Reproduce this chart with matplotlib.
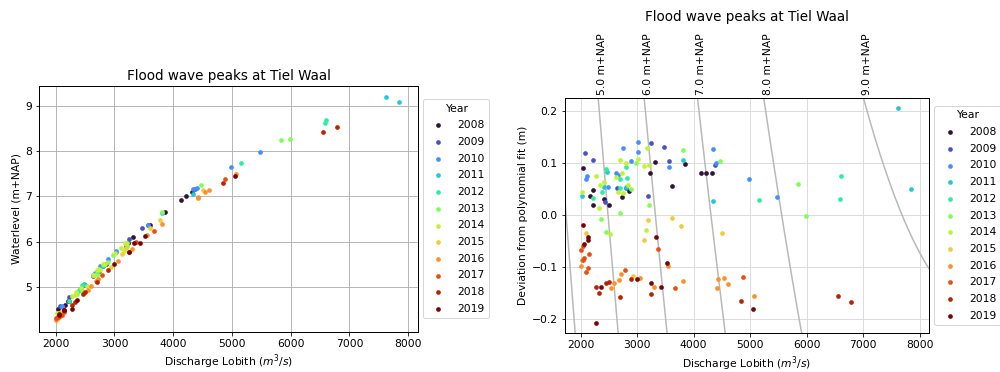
import numpy as np
import matplotlib
matplotlib.use('Agg')
import matplotlib.pyplot as plt

plt.rcParams['font.family'] = ['DejaVu Sans']
plt.rcParams['font.size'] = 10.8
plt.rcParams['axes.linewidth'] = 1.0

years = [2008, 2009, 2010, 2011, 2012, 2013, 2014, 2015, 2016, 2017, 2018, 2019]

# discharge (m3/s) and deviation from polynomial fit (m), per year
q2008 = [2041, 2217, 2159, 2411, 2224, 2506, 2859, 2736, 3317, 3229, 3611, 3852, 4129, 4217, 4323]
d2008 = [0.090, 0.048, 0.037, 0.030, 0.020, 0.020, 0.046, 0.035, 0.101, 0.080, 0.056, 0.097, 0.081, 0.081, 0.081]
q2009 = [2071, 2229, 2436, 2640, 2806, 3241, 3476, 3570, 3200, 4369]
d2009 = [0.118, 0.105, 0.024, 0.051, 0.051, 0.139, 0.131, 0.103, 0.037, 0.096]
q2010 = [2111, 2100, 2482, 2746, 2635, 2670, 2894, 3018, 3018, 3570, 4341, 4404, 4981, 5475]
d2010 = [0.074, 0.070, 0.054, 0.129, 0.081, 0.076, 0.103, 0.120, 0.140, 0.092, 0.126, 0.100, 0.070, 0.035]
q2011 = [2476, 2411, 2030, 2811, 3817, 4341, 7622, 7839]
d2011 = [0.083, 0.054, 0.036, 0.054, 0.106, 0.026, 0.206, 0.050]
q2012 = [2453, 2229, 2376, 2700, 2806, 2823, 2706, 5152, 6609, 6586]
d2012 = [0.089, 0.032, 0.045, 0.070, 0.092, 0.071, 0.052, 0.029, 0.074, 0.030]
q2013 = [2365, 2894, 2694, 2982, 3212, 3817, 4475, 5840, 5981, 2446]
d2013 = [-0.008, 0.050, 0.004, 0.099, 0.020, 0.124, 0.104, 0.059, -0.001, -0.033]
q2014 = [2270, 2423, 2347, 2018, 2335, 2630, 2741, 2700, 2806, 2658, 2753, 2847, 3011, 3177, 3117, 3217, 3164, 2524]
d2014 = [0.074, 0.064, 0.058, 0.045, 0.013, 0.072, 0.080, 0.105, 0.100, 0.044, 0.042, 0.058, 0.108, 0.128, 0.094, 0.095, -0.028, -0.037]
q2015 = [3200, 3611, 3782, 4510, 3129, 2088, 2935]
d2015 = [-0.009, -0.006, -0.021, -0.035, -0.048, -0.035, -0.117]
q2016 = [2005, 2723, 2688, 2600, 2547, 3053, 3293, 3552, 3811, 4429, 4540, 4611, 4417, 5064, 2030]
d2016 = [-0.097, -0.113, -0.124, -0.130, -0.141, -0.120, -0.139, -0.097, -0.126, -0.122, -0.121, -0.132, -0.140, -0.155, -0.086]
q2017 = [3370, 2035, 2012, 2141, 2065, 2041, 2136, 2100, 2781, 3670, 4875]
d2017 = [-0.065, -0.060, -0.068, -0.075, -0.083, -0.087, -0.101, -0.110, -0.105, -0.140, -0.119]
q2018 = [2499, 2459, 2282, 2335, 2700, 2894, 3247, 4840, 6546, 6786]
d2018 = [-0.128, -0.131, -0.139, -0.150, -0.158, -0.123, -0.152, -0.165, -0.156, -0.166]
q2019 = [2048, 2136, 2136, 2058, 3328, 3522, 2370, 2277, 2993, 3240, 3429, 5057]
d2019 = [-0.020, -0.042, -0.048, -0.056, -0.043, -0.092, -0.138, -0.207, -0.123, -0.130, -0.138, -0.181]

q_all = [q2008, q2009, q2010, q2011, q2012, q2013, q2014, q2015, q2016, q2017, q2018, q2019]
d_all = [d2008, d2009, d2010, d2011, d2012, d2013, d2014, d2015, d2016, d2017, d2018, d2019]

# rating-curve polynomial fit h(Q) (highest power first)
poly_coef = [-9.75e-8, 1.761e-3, 1.225]
levels = [4.0, 5.0, 6.0, 7.0, 8.0, 9.0]

title = 'Flood wave peaks at Tiel Waal'
xlabel = 'Discharge Lobith ($m^3/s$)'

xlim = (1720, 8162)
ylim_right = (-0.227, 0.225)
ylim_left = (4.01, 9.44)

fig = plt.figure(figsize=(1000 / 72, 372 / 72), dpi=72)
ax1 = fig.add_axes([0.0393, 0.1083, 0.3784, 0.6613])
ax2 = fig.add_axes([0.5647, 0.1040, 0.3643, 0.6333])

colors = plt.get_cmap('turbo')(np.linspace(0, 1, len(years)))
poly = np.poly1d(poly_coef)

for yr, q, d, c in zip(years, q_all, d_all, colors):
    q = np.asarray(q, float)
    d = np.asarray(d, float)
    h = poly(q) + d
    ax1.scatter(q, h, s=22, color=c, linewidths=0, label=str(yr), zorder=3)
    ax2.scatter(q, d, s=22, color=c, linewidths=0, label=str(yr), zorder=3)

leg_kw = dict(title='Year', loc='center left', bbox_to_anchor=(1.0, 0.5),
              scatterpoints=1, labelspacing=0.62)

# left panel
ax1.set_xlim(*xlim)
ax1.set_ylim(*ylim_left)
ax1.set_xticks([2000, 3000, 4000, 5000, 6000, 7000, 8000])
ax1.set_yticks([5, 6, 7, 8, 9])
ax1.grid(True, color='#b0b0b0', lw=0.9)
ax1.set_axisbelow(True)
ax1.set_title(title, fontsize=13.5)
ax1.set_xlabel(xlabel)
ax1.set_ylabel('Waterlevel (m+NAP)')
ax1.legend(**leg_kw)

# right panel
qq = np.linspace(xlim[0], xlim[1], 600)
for lev in levels:
    ax2.plot(qq, lev - poly(qq), color='#b8b8b8', lw=1.5, zorder=2)
    # discharge where the level line meets the top of the axes
    qtop = np.interp(lev - ylim_right[1], poly(qq), qq, left=np.nan, right=np.nan)
    if np.isfinite(qtop) and xlim[0] < qtop < xlim[1]:
        ax2.annotate(f'{lev:.1f} m+NAP', xy=(qtop, ylim_right[1]), xycoords='data',
                     xytext=(-1, 2.5), textcoords='offset points', rotation=90,
                     ha='left', va='bottom', annotation_clip=False)
ax2.set_xlim(*xlim)
ax2.set_ylim(*ylim_right)
ax2.set_xticks([2000, 3000, 4000, 5000, 6000, 7000, 8000])
ax2.set_yticks([-0.2, -0.1, 0.0, 0.1, 0.2])
ax2.grid(True, color='#dcdcdc', lw=1.0)
ax2.set_axisbelow(True)
ax2.set_title(title, fontsize=13.5, pad=77)
ax2.set_xlabel(xlabel)
ax2.set_ylabel('Deviation from polynomial fit (m)')
ax2.legend(**leg_kw)

fig.savefig('out.png', dpi=72)
